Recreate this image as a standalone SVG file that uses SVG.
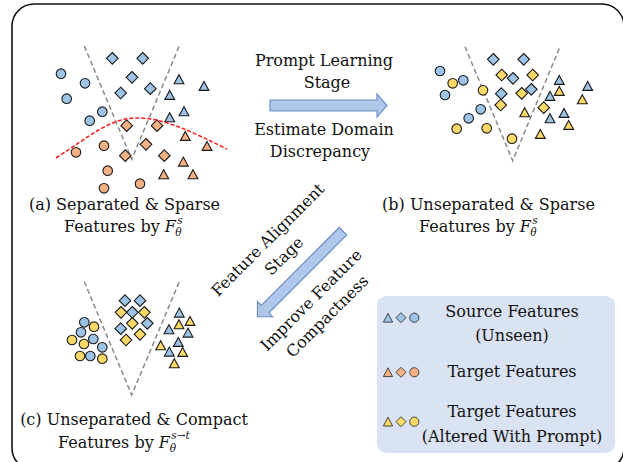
<svg xmlns="http://www.w3.org/2000/svg" xmlns:xlink="http://www.w3.org/1999/xlink" width="623" height="462" viewBox="0 0 623 462">
  <style>
    text { font-family: "DejaVu Serif", "Liberation Serif", serif; font-size: 16px; fill: #111; }
    .mid { text-anchor: middle; }
    .it { font-style: italic; }
    .sm { font-size: 10.5px; font-style: italic; }
    .b { fill: #9dc3e6; }
    .o { fill: #f4b183; }
    .y { fill: #ffd966; }
    .mk { stroke: #1a1a1a; stroke-width: 1.1; }
    .lg { stroke: #333; stroke-width: 0.9; }
    .vline { fill: none; stroke: #8a8a8a; stroke-width: 1.5; stroke-dasharray: 5 3; }
    .blk { fill: #afc7e9; stroke: #6d8fc3; stroke-width: 1.2; }
  </style>
  <defs>
    <polygon id="tri" points="0,-4.6 4.9,4.4 -4.9,4.4"/>
    <polygon id="dia" points="0,-5.8 5.8,0 0,5.8 -5.8,0"/>
    <circle id="cir" r="4.8"/>
    <polygon id="tri-s" points="0,-4.5 4.6,4.3 -4.6,4.3"/>
    <polygon id="dia-s" points="0,-5 5,0 0,5 -5,0"/>
    <circle id="cir-s" r="4.6"/>
  </defs>

  <!-- outer frame -->
  <rect x="12" y="4" width="612" height="466" rx="22" fill="#fff" stroke="#111" stroke-width="1.6"/>

  <!-- (a) source-only feature space -->
  <g id="panel-a">
    <path class="vline" d="M84.3,46 L131.7,159.3 L179.3,46"/>
    <g class="mk">
      <use href="#cir" class="b" x="61" y="73.7"/>
      <use href="#cir" class="b" x="85" y="83.3"/>
      <use href="#cir" class="b" x="66.7" y="98.7"/>
      <use href="#cir" class="b" x="102.3" y="111.7"/>
      <use href="#cir" class="b" x="89.7" y="120.7"/>
      <use href="#dia" class="b" x="112.3" y="58.3"/>
      <use href="#dia" class="b" x="142.7" y="58.3"/>
      <use href="#dia" class="b" x="132" y="77.3"/>
      <use href="#dia" class="b" x="150.3" y="88.7"/>
      <use href="#dia" class="b" x="120.7" y="93"/>
      <use href="#tri" class="b" x="179" y="79.3"/>
      <use href="#tri" class="b" x="204" y="86"/>
      <use href="#tri" class="b" x="169.7" y="95"/>
      <use href="#tri" class="b" x="184" y="111.3"/>
      <use href="#tri" class="b" x="169.7" y="117.3"/>
      <use href="#cir" class="o" x="76" y="152.3"/>
      <use href="#cir" class="o" x="104" y="145.7"/>
      <use href="#cir" class="o" x="107.7" y="170.7"/>
      <use href="#cir" class="o" x="104" y="188.3"/>
      <use href="#cir" class="o" x="140" y="183.7"/>
      <use href="#dia" class="o" x="126.7" y="125.7"/>
      <use href="#dia" class="o" x="157" y="125.7"/>
      <use href="#dia" class="o" x="146" y="144.3"/>
      <use href="#dia" class="o" x="125.3" y="155.7"/>
      <use href="#dia" class="o" x="164.3" y="155.7"/>
      <use href="#tri" class="o" x="185.3" y="136"/>
      <use href="#tri" class="o" x="207" y="146"/>
      <use href="#tri" class="o" x="183.3" y="161.7"/>
      <use href="#tri" class="o" x="163.7" y="174.3"/>
      <use href="#tri" class="o" x="193" y="174.3"/>
    </g>
    <path d="M56,158 C90,136 110,118 137,118 C165,118 192,132 227,149" fill="none" stroke="#ff1a1a" stroke-width="1.5" stroke-dasharray="4 2"/>
    <text class="mid" x="124.5" y="209.5">(a) Separated &amp; Sparse</text>
    <text x="64" y="231.5">Features by <tspan class="it">F</tspan><tspan class="sm" dx="1.5" dy="-8">s</tspan><tspan class="sm" dx="-7.5" dy="12">θ</tspan></text>
  </g>

  <!-- (b) prompt-altered target features -->
  <g id="panel-b">
    <path class="vline" d="M465,46.7 L512.7,160.7 L560,46.7"/>
    <g class="mk">
      <use href="#cir" class="b" x="440" y="71"/>
      <use href="#cir" class="b" x="463.3" y="80.3"/>
      <use href="#cir" class="b" x="445" y="95"/>
      <use href="#cir" class="b" x="480.7" y="109.3"/>
      <use href="#cir" class="b" x="468.7" y="118.3"/>
      <use href="#cir" class="y" x="452.7" y="83.3"/>
      <use href="#cir" class="y" x="483" y="90.3"/>
      <use href="#cir" class="y" x="456.7" y="128.7"/>
      <use href="#cir" class="y" x="486.7" y="128.3"/>
      <use href="#cir" class="y" x="512" y="138.7"/>
      <use href="#dia" class="b" x="493.3" y="59.3"/>
      <use href="#dia" class="b" x="523.7" y="59.3"/>
      <use href="#dia" class="b" x="513" y="78.3"/>
      <use href="#dia" class="b" x="531.3" y="89.3"/>
      <use href="#dia" class="b" x="501.3" y="93.7"/>
      <use href="#dia" class="y" x="501.7" y="75"/>
      <use href="#dia" class="y" x="532.7" y="75"/>
      <use href="#dia" class="y" x="521.7" y="93.3"/>
      <use href="#dia" class="y" x="500.7" y="105"/>
      <use href="#dia" class="y" x="543.7" y="107.7"/>
      <use href="#tri" class="b" x="559.3" y="80"/>
      <use href="#tri" class="b" x="587.7" y="86"/>
      <use href="#tri" class="b" x="550" y="96"/>
      <use href="#tri" class="b" x="564" y="113"/>
      <use href="#tri" class="b" x="550" y="118.3"/>
      <use href="#tri" class="y" x="559.3" y="91"/>
      <use href="#tri" class="y" x="582.3" y="99.3"/>
      <use href="#tri" class="y" x="524.7" y="112.3"/>
      <use href="#tri" class="y" x="568.7" y="125"/>
      <use href="#tri" class="y" x="540.3" y="134"/>
    </g>
    <text class="mid" x="488.5" y="209.5">(b) Unseparated &amp; Sparse</text>
    <text x="419" y="231.5">Features by <tspan class="it">F</tspan><tspan class="sm" dx="1.5" dy="-8">s</tspan><tspan class="sm" dx="-7.5" dy="12">θ</tspan></text>
  </g>

  <!-- (c) aligned, compact features -->
  <g id="panel-c">
    <path class="vline" d="M84.3,281.7 L131.7,395 L179.3,281.7"/>
    <g class="mk">
      <use href="#cir" class="b" x="84.3" y="322.3"/>
      <use href="#cir" class="b" x="81" y="332.3"/>
      <use href="#cir" class="b" x="93.3" y="339"/>
      <use href="#cir" class="b" x="102.3" y="347.3"/>
      <use href="#cir" class="b" x="90.3" y="356"/>
      <use href="#cir" class="y" x="94" y="326.7"/>
      <use href="#cir" class="y" x="72" y="340"/>
      <use href="#cir" class="y" x="84" y="344"/>
      <use href="#cir" class="y" x="80" y="356"/>
      <use href="#cir" class="y" x="102.3" y="358.7"/>
      <use href="#dia" class="b" x="125" y="300.7"/>
      <use href="#dia" class="b" x="140" y="300.7"/>
      <use href="#dia" class="b" x="132.3" y="312.3"/>
      <use href="#dia" class="b" x="147.3" y="323.3"/>
      <use href="#dia" class="b" x="120.7" y="328.7"/>
      <use href="#dia" class="y" x="121" y="312.3"/>
      <use href="#dia" class="y" x="144.3" y="312.3"/>
      <use href="#dia" class="y" x="132.3" y="323.3"/>
      <use href="#dia" class="y" x="140" y="334.3"/>
      <use href="#dia" class="y" x="126" y="340"/>
      <use href="#tri" class="b" x="179.3" y="312.7"/>
      <use href="#tri" class="b" x="169" y="329.3"/>
      <use href="#tri" class="b" x="188" y="332.7"/>
      <use href="#tri" class="b" x="178.3" y="342"/>
      <use href="#tri" class="b" x="169.3" y="351.7"/>
      <use href="#tri" class="y" x="179" y="324.3"/>
      <use href="#tri" class="y" x="190" y="321"/>
      <use href="#tri" class="y" x="160.7" y="345.3"/>
      <use href="#tri" class="y" x="182.7" y="352"/>
      <use href="#tri" class="y" x="174.3" y="363.3"/>
    </g>
    <text class="mid" x="134" y="424.5">(c) Unseparated &amp; Compact</text>
    <text x="58" y="447.5">Features by <tspan class="it">F</tspan><tspan class="sm" dx="1.5" dy="-8.5">s→t</tspan><tspan class="sm" dx="-20" dy="12.5">θ</tspan></text>
  </g>

  <!-- legend -->
  <g id="legend">
    <rect x="377" y="296" width="238" height="157" rx="9" fill="#dae3f3"/>
    <g class="lg">
      <use href="#tri-s" class="b" x="388" y="317.8"/>
      <use href="#dia-s" class="b" x="401" y="317.7"/>
      <use href="#cir-s" class="b" x="414.3" y="317.7"/>
      <use href="#tri-s" class="o" x="388" y="372.3"/>
      <use href="#dia-s" class="o" x="401" y="372.3"/>
      <use href="#cir-s" class="o" x="414.3" y="372.3"/>
      <use href="#tri-s" class="y" x="388" y="421.7"/>
      <use href="#dia-s" class="y" x="401" y="421.7"/>
      <use href="#cir-s" class="y" x="414.3" y="421.7"/>
    </g>
    <text class="mid" x="512" y="317">Source Features</text>
    <text class="mid" x="512" y="341">(Unseen)</text>
    <text class="mid" x="512" y="377">Target Features</text>
    <text class="mid" x="512" y="417">Target Features</text>
    <text class="mid" x="512" y="442">(Altered With Prompt)</text>
  </g>

  <!-- stage arrows -->
  <g id="connectors">
    <g id="prompt-stage">
      <polygon class="blk" points="270,100 377,100 377,94 387,105.5 377,117 377,111 270,111"/>
      <text class="mid" x="324" y="66">Prompt Learning</text>
      <text class="mid" x="327" y="87.5">Stage</text>
      <text class="mid" x="324" y="135">Estimate Domain</text>
      <text class="mid" x="320" y="157">Discrepancy</text>
    </g>
    <g id="alignment-stage">
      <polygon class="blk" transform="translate(343,231.2) rotate(135)" points="0,-5.3 110.2,-5.3 110.2,-10.7 121,0 110.2,10.7 110.2,5.3 0,5.3"/>
      <g transform="translate(267.7,239.7) rotate(-45)">
        <text class="mid" x="0" y="5.5">Feature Alignment</text>
        <text class="mid" x="0" y="28.5">Stage</text>
      </g>
      <g transform="translate(311,300) rotate(-45)">
        <text class="mid" x="0" y="5.5">Improve Feature</text>
        <text class="mid" x="0" y="28.5">Compactness</text>
      </g>
    </g>
  </g>
</svg>
